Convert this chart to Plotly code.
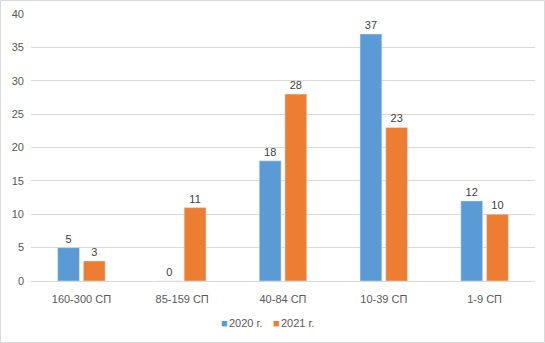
import plotly.graph_objects as go

categories = ["160-300 СП", "85-159 СП", "40-84 СП", "10-39 СП", "1-9 СП"]
values_2020 = [5, 0, 18, 37, 12]
values_2021 = [3, 11, 28, 23, 10]
series_names = ["2020 г.", "2021 г."]
colors = ["#5B9BD5", "#ED7D31"]

fig = go.Figure()
for name, vals, col in zip(series_names, [values_2020, values_2021], colors):
    fig.add_trace(go.Bar(
        x=categories, y=vals, name=name, marker_color=col,
        text=vals, textposition="outside", cliponaxis=False,
        textfont=dict(size=11, color="#404040"), showlegend=False,
    ))

# custom legend (compact, like the original)
legend_x = [219, 271]
annotations = []
for name, col, lx in zip(series_names, colors, legend_x):
    annotations.append(dict(xref="paper", yref="paper", x=(lx - 31) / 504, y=(281 - 323) / 267,
                            text="■", showarrow=False, xanchor="left", yanchor="middle",
                            font=dict(size=11, color=col)))
    annotations.append(dict(xref="paper", yref="paper", x=(lx + 8 - 31) / 504, y=(281 - 323) / 267,
                            text=name, showarrow=False, xanchor="left", yanchor="middle",
                            font=dict(size=11, color="#595959")))

fig.update_layout(
    width=545, height=343,
    margin=dict(l=31, r=10, t=14, b=62, autoexpand=False),
    paper_bgcolor="white", plot_bgcolor="white",
    barmode="group", bargap=0.49, bargroupgap=0.15,
    showlegend=False,
    font=dict(family="Liberation Sans, Arial, sans-serif", size=11, color="#595959"),
    xaxis=dict(showgrid=False, showline=True, linecolor="#D9D9D9", ticks="",
               ticklabelstandoff=8, tickfont=dict(size=11, color="#595959")),
    yaxis=dict(range=[0, 40], dtick=5, showgrid=True, gridcolor="#D9D9D9",
               zeroline=False, showline=False, ticks="", ticklabelstandoff=6,
               tickfont=dict(size=11, color="#595959")),
    annotations=annotations,
    shapes=[dict(type="rect", xref="paper", yref="paper",
                 x0=-30.5 / 504, x1=1 + 9.5 / 504, y0=-61.5 / 267, y1=1 + 13.5 / 267,
                 line=dict(color="#D9D9D9", width=1))],
)

fig.write_html("out.html")
